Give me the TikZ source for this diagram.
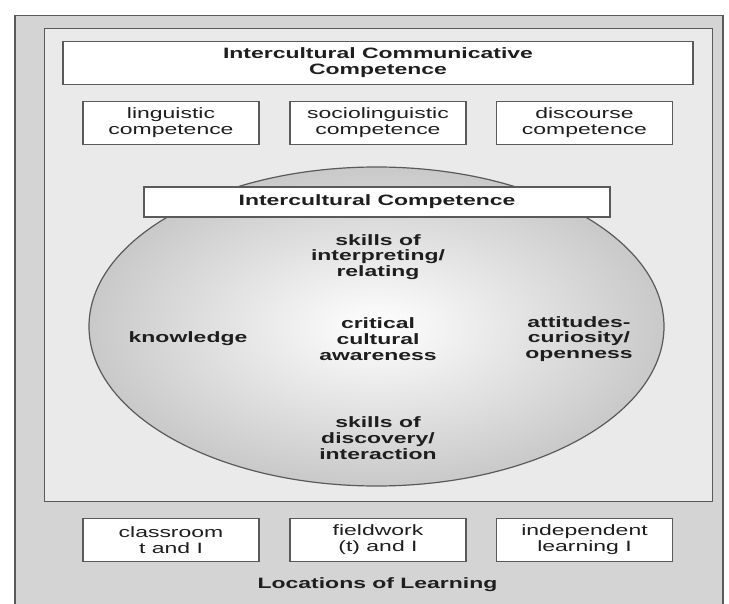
\documentclass[tikz,border=0pt]{standalone}
\usepackage{fontspec}
\setmainfont{Liberation Sans}[FakeStretch=1.53]
\usetikzlibrary{shapes.geometric}
\definecolor{outerfill}{HTML}{D4D4D4}
\definecolor{innerfill}{HTML}{EAEAEA}
\definecolor{edgecol}{HTML}{5A5A5A}
\definecolor{txtcol}{HTML}{1E1E1E}
\definecolor{ellout}{HTML}{C9C9C9}
\tikzset{
  lbl/.style={align=center, inner sep=0pt, text=txtcol, font=\fontsize{15}{15.8}\selectfont},
  blbl/.style={lbl, font=\fontsize{15}{15.8}\selectfont\bfseries},
  wbox/.style={lbl, draw=edgecol, line width=1.2pt, fill=white},
  smallbox/.style={wbox, minimum width=176pt, minimum height=43pt},
}
\begin{document}
\begin{tikzpicture}[x=1pt,y=-1pt]
\useasboundingbox (0,0) rectangle (729,604);
% frames
\node[draw=edgecol, line width=1.5pt, fill=outerfill, minimum width=708pt, minimum height=610pt, anchor=north west, inner sep=0pt] (outer) at (14,15) {};
\node[draw=edgecol, line width=1.2pt, fill=innerfill, minimum width=668pt, minimum height=473pt, anchor=north west, inner sep=0pt] (inner) at (44,28) {};
% title
\node[wbox, blbl, minimum width=630pt, minimum height=43pt] (icc) at (378,63) {Intercultural Communicative\\Competence};
% top boxes
\node[smallbox] (ling) at (171,123) {linguistic\\competence};
\node[smallbox] (socio) at (378,123) {sociolinguistic\\competence};
\node[smallbox] (disc) at (584.5,123) {discourse\\competence};
% ellipse
\node[ellipse, draw=edgecol, line width=1.2pt, inner color=white, outer color=ellout, minimum width=575pt, minimum height=319pt, inner sep=0pt] (ell) at (376.5,326.5) {};
\node[wbox, blbl, minimum width=466pt, minimum height=30pt] (ic) at (377,202) {Intercultural Competence};
% inner texts
\node[blbl] (interp) at (378,257) {skills of\\interpreting/\\relating};
\node[blbl] (know) at (188,339) {knowledge};
\node[blbl] (crit) at (378,339) {critical\\cultural\\awareness};
\node[blbl] (att) at (579,339) {attitudes-\\curiosity/\\openness};
\node[blbl] (disco) at (378,438) {skills of\\discovery/\\interaction};
% bottom boxes
\node[smallbox] (class) at (171,540) {classroom\\t and I};
\node[smallbox] (field) at (378,540) {fieldwork\\(t) and I};
\node[smallbox] (indep) at (584.5,540) {independent\\learning I};
\node[blbl] (loc) at (377.5,585) {Locations of Learning};
\end{tikzpicture}
\end{document}
